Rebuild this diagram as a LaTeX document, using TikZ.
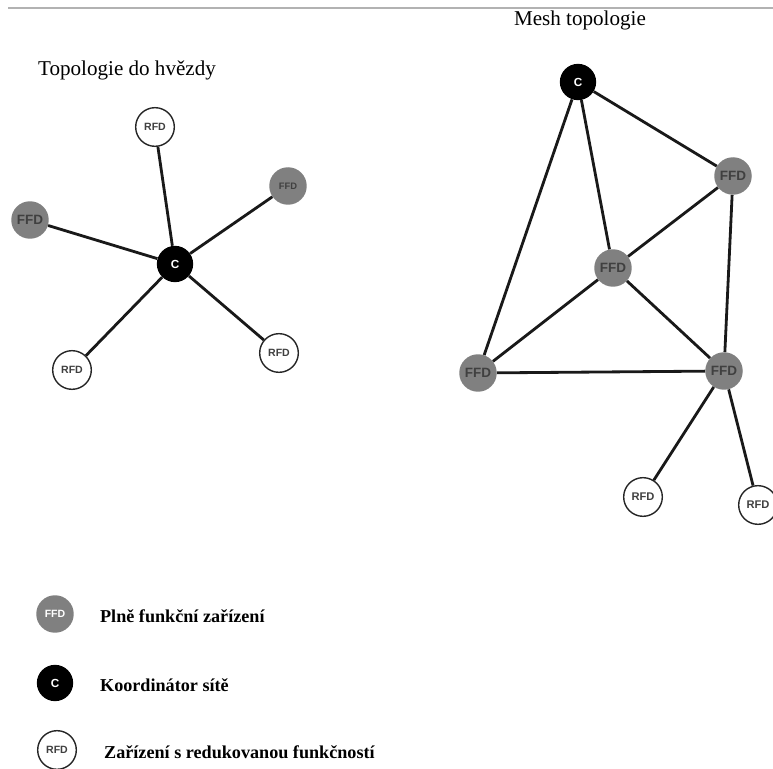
\documentclass[tikz,border=0pt]{standalone}
\usepackage{fontspec}
\setmainfont{Liberation Serif}
\newfontfamily\lblfont{Liberation Sans}
\usepackage{tikz}

\begin{document}
\begin{tikzpicture}[x=0.03cm,y=-0.03cm,
	ffd/.style={circle,fill=gray,minimum size=32pt,inner sep=0pt,font=\lblfont\bfseries\fontsize{11.5}{12}\selectfont,text=black!75},
	crd/.style={circle,fill=black,minimum size=31pt,inner sep=0pt,font=\lblfont\bfseries\fontsize{10}{10}\selectfont,text=white},
	rfd/.style={circle,draw=black!85,line width=1.2pt,fill=white,minimum size=33pt,inner sep=0pt,font=\lblfont\bfseries\fontsize{9.5}{10}\selectfont,text=black!75},
	link/.style={line width=2.4pt,black!90}]

	\useasboundingbox (0,0) rectangle (773,769);
	\draw[gray!60,line width=1.3pt] (8,8) -- (773,8);

	\node[anchor=west,font=\fontsize{18}{20}\selectfont] (t1) at (34,70) {Topologie do hvězdy};
	\node[font=\fontsize{18}{20}\selectfont] (t2) at (580,20) {Mesh topologie};

	% hvezda
	\node[crd] (c) at (175,264) {C};
	\node[rfd,font=\lblfont\bfseries\fontsize{9}{9}\selectfont] (r1) at (155,127) {RFD};
	\node[ffd,font=\lblfont\bfseries\fontsize{8}{8}\selectfont] (f1) at (288,186) {FFD};
	\node[ffd] (f2) at (30,220) {FFD};
	\node[rfd,font=\lblfont\bfseries\fontsize{9}{9}\selectfont] (r2) at (279,353) {RFD};
	\node[rfd,font=\lblfont\bfseries\fontsize{9}{9}\selectfont] (r3) at (72,370) {RFD};
	\draw[link] (c) -- (r1);
	\draw[link] (c) -- (f1);
	\draw[link] (c) -- (f2);
	\draw[link] (c) -- (r2);
	\draw[link] (c) -- (r3);

	% mesh
	\node[crd] (mc) at (578,82) {C};
	\node[ffd] (ma) at (733,176) {FFD};
	\node[ffd] (mb) at (613,268) {FFD};
	\node[ffd] (md) at (478,373) {FFD};
	\node[ffd] (me) at (724,371) {FFD};
	\node[rfd] (mr1) at (643,497) {RFD};
	\node[rfd] (mr2) at (758,505) {RFD};
	\draw[link] (mc) -- (ma);
	\draw[link] (mc) -- (mb);
	\draw[link] (mc) -- (md);
	\draw[link] (ma) -- (mb);
	\draw[link] (ma) -- (me);
	\draw[link] (mb) -- (md);
	\draw[link] (mb) -- (me);
	\draw[link] (md) -- (me);
	\draw[link] (me) -- (mr1);
	\draw[link] (me) -- (mr2);

	% legenda
	\node[ffd,text=white,font=\lblfont\bfseries\fontsize{9}{9}\selectfont] (l1) at (55,614) {FFD};
	\node[crd] (l2) at (55,683) {C};
	\node[rfd,font=\lblfont\bfseries\fontsize{9}{9}\selectfont] (l3) at (57,750) {RFD};
	\node[anchor=west,font=\bfseries\fontsize{15.5}{17}\selectfont] at (96,616) {Plně funkční zařízení};
	\node[anchor=west,font=\bfseries\fontsize{15.5}{17}\selectfont] at (96,685) {Koordinátor sítě};
	\node[anchor=west,font=\bfseries\fontsize{15.5}{17}\selectfont] at (100,752) {Zařízení s redukovanou funkčností};
\end{tikzpicture}
\end{document}
